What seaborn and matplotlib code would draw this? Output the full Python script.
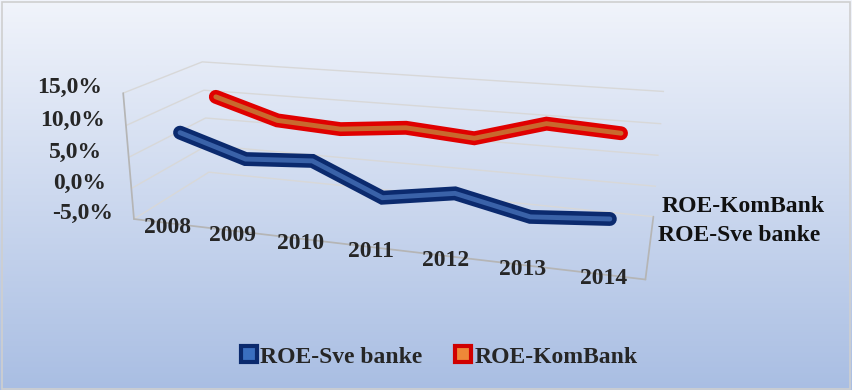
import numpy as np
import pandas as pd
import matplotlib
matplotlib.use("Agg")
import matplotlib.pyplot as plt
import seaborn as sns
from matplotlib import patheffects as pe
from matplotlib.patches import Rectangle
from matplotlib.lines import Line2D
from matplotlib.colors import LinearSegmentedColormap

# ---- data ----
years = ["2008", "2009", "2010", "2011", "2012", "2013", "2014"]
series = ["ROE-Sve banke", "ROE-KomBank"]
roe_sve = [7.7, 4.4, 5.1, 0.4, 2.2, -0.2, 0.7]
roe_kom = [10.6, 7.4, 6.8, 7.9, 7.1, 10.3, 9.7]
z_ticks = [-5, 0, 5, 10, 15]
z_tick_labels = ["-5,0%", "0,0%", "5,0%", "10,0%", "15,0%"]

sns.set_theme(style="white")
plt.rcParams["font.family"] = ["Liberation Serif", "DejaVu Serif"]
plt.rcParams["grid.color"] = "#d6d6d6"
plt.rcParams["grid.linewidth"] = 1.0

fig = plt.figure(figsize=(8.53, 3.90), dpi=100)

# gradient background
bg = fig.add_axes([0, 0, 1, 1], zorder=-10)
grad = np.linspace(0, 1, 256)[:, None]
cmap = LinearSegmentedColormap.from_list("bg", ["#f1f4fb", "#a9bee3"])
bg.imshow(grad, aspect="auto", cmap=cmap, extent=[0, 1, 0, 1], origin="upper")
bg.axis("off")
fig.patches.append(Rectangle((0.002, 0.003), 0.995, 0.993, transform=fig.transFigure,
                             fill=False, ec="#cfcfcf", lw=1.2))

ax = fig.add_axes([-0.043, 0.137, 1.0, 0.9], projection="3d")
ax.set_facecolor((0, 0, 0, 0))
for axis in (ax.xaxis, ax.yaxis, ax.zaxis):
    axis.set_pane_color((1, 1, 1, 0))
    axis.line.set_color("#b5b5b5")
    axis._axinfo["tick"]["inward_factor"] = 0.0
    axis._axinfo["tick"]["outward_factor"] = 0.0
ax.xaxis._axinfo["grid"]["linewidth"] = 0
ax.yaxis._axinfo["grid"]["linewidth"] = 0
ax.zaxis._axinfo["grid"]["color"] = "#d8d8d8"

x_idx = np.arange(len(years))
depths = [0, 1]
styles = [
    (roe_sve, depths[0], "#0b2a6e", "#3a62a8"),
    (roe_kom, depths[1], "#e00000", "#c8692e"),
]
for vals, depth, dark, inner in styles:
    sns.lineplot(x=x_idx, y=np.array(vals, dtype=float), ax=ax, zs=depth, zdir="y",
                 color=inner, lw=3.5, legend=False, errorbar=None, sort=False,
                 clip_on=False,
                 solid_joinstyle="miter", solid_capstyle="round",
                 path_effects=[pe.Stroke(linewidth=10, foreground=dark,
                                         joinstyle="miter", capstyle="round"),
                               pe.Normal()])

ax.set_xlim(-0.5, len(years) - 0.5)
ax.set_ylim(-0.5, 1.5)
ax.set_zlim(-5, 15)
ax.set_xticks(x_idx)
ax.set_xticklabels(years, fontsize=17, fontweight="bold")
ax.set_yticks(depths)
ax.set_yticklabels(["", ""])
ax.set_zticks(z_ticks)
ax.set_zticklabels(z_tick_labels, fontsize=17, fontweight="bold", va="baseline")
ax.zaxis.set_ticks_position("lower")
ax.set_xlabel("")
ax.set_ylabel("")
ax.set_zlabel("")
ax.tick_params(axis="both", length=0)
ax.xaxis.set_tick_params(pad=-12)
ax.zaxis.set_tick_params(pad=5)

# depth-axis (series) labels at the right side of the floor
for name, depth in zip(series, depths):
    ax.text(len(years) - 0.5 + 0.1, depth, -1, name, fontsize=17, fontweight="bold",
            ha="left", va="center", color="#111111")

ax.set_proj_type("persp", focal_length=0.5)
ax.set_box_aspect((1.0, 0.32, 0.26), zoom=1.51)
ax.view_init(elev=17, azim=-73)

handles = [
    Line2D([], [], marker="s", ls="none", markersize=11, markerfacecolor="#3a6fc0",
           markeredgecolor="#0b2a6e", markeredgewidth=3),
    Line2D([], [], marker="s", ls="none", markersize=11, markerfacecolor="#ee8838",
           markeredgecolor="#d00000", markeredgewidth=3),
]
fig.legend(handles, series, loc="center", bbox_to_anchor=(0.514, 0.085), ncol=2,
           frameon=False, prop={"size": 17, "weight": "bold"}, handletextpad=0.1,
           handlelength=0.8, columnspacing=1.3)

fig.savefig("out.png", dpi=100)
